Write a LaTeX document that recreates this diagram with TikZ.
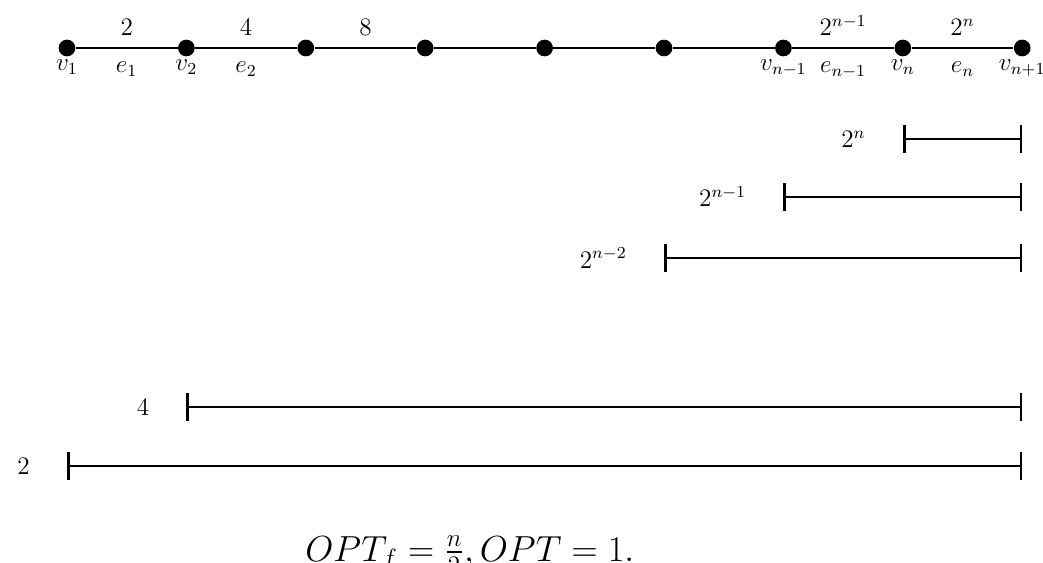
\documentclass[tikz,border=0pt]{standalone}
\usepackage{amsmath}
\usepackage{tikz}
\usetikzlibrary{arrows.meta, positioning}

\begin{document}
\begin{tikzpicture}[
  font=\large,
  dot/.style={circle, fill, inner sep=0pt, minimum size=0.28cm},
  vlab/.style={label={[label distance=-2pt]below:#1}},
  wt/.style={midway, above=2pt},
  ed/.style={midway, below=3pt},
  iv/.style={{Bar[width=0.47cm, line width=1.3pt]}-{Bar[width=0.47cm, line width=1.3pt]}, line width=0.9pt},
  ivlab/.style={left=0.5cm of #1}
]
  \useasboundingbox (0,0) rectangle (17.47,-9.414);
  % path of n+1 vertices
  \node[dot, vlab=$v_1$]     (v1) at (1.122,-0.804) {};
  \node[dot, vlab=$v_2$]     (v2) at (3.122,-0.804) {};
  \node[dot]                 (v3) at (5.122,-0.804) {};
  \node[dot]                 (v4) at (7.122,-0.804) {};
  \node[dot]                 (v5) at (9.122,-0.804) {};
  \node[dot]                 (v6) at (11.122,-0.804) {};
  \node[dot, vlab=$v_{n-1}$] (v7) at (13.122,-0.804) {};
  \node[dot, vlab=$v_n$]     (v8) at (15.122,-0.804) {};
  \node[dot, vlab=$v_{n+1}$] (v9) at (17.122,-0.804) {};
  \draw[thick] (v1) -- node[wt]{$2$} node[ed]{$e_1$} (v2);
  \draw[thick] (v2) -- node[wt]{$4$} node[ed]{$e_2$} (v3);
  \draw[thick] (v3) -- node[wt]{$8$} (v4);
  \draw[thick] (v4) -- (v5); \draw[thick] (v5) -- (v6); \draw[thick] (v6) -- (v7);
  \draw[thick] (v7) -- node[wt]{$2^{n-1}$} node[ed]{$e_{n-1}$} (v8);
  \draw[thick] (v8) -- node[wt]{$2^n$} node[ed]{$e_n$} (v9);

  % intervals
  \coordinate (s1) at (15.122,-2.328); \coordinate (t1) at (17.122,-2.328);
  \coordinate (s2) at (13.122,-3.300); \coordinate (t2) at (17.122,-3.300);
  \coordinate (s3) at (11.122,-4.322); \coordinate (t3) at (17.122,-4.322);
  \coordinate (s4) at (3.122,-6.817);  \coordinate (t4) at (17.122,-6.817);
  \coordinate (s5) at (1.122,-7.806);  \coordinate (t5) at (17.122,-7.806);
  \draw[iv] (s1) -- (t1); \node[ivlab=s1] (l1) {$2^n$};
  \draw[iv] (s2) -- (t2); \node[ivlab=s2] (l2) {$2^{n-1}$};
  \draw[iv] (s3) -- (t3); \node[ivlab=s3] (l3) {$2^{n-2}$};
  \draw[iv] (s4) -- (t4); \node[ivlab=s4] (l4) {$4$};
  \draw[iv] (s5) -- (t5); \node[ivlab=s5] (l5) {$2$};

  \node[font=\LARGE, anchor=base] (opt) at (7.87,-9.397) {$OPT_f=\frac{n}{2},OPT=1.$};
\end{tikzpicture}
\end{document}
